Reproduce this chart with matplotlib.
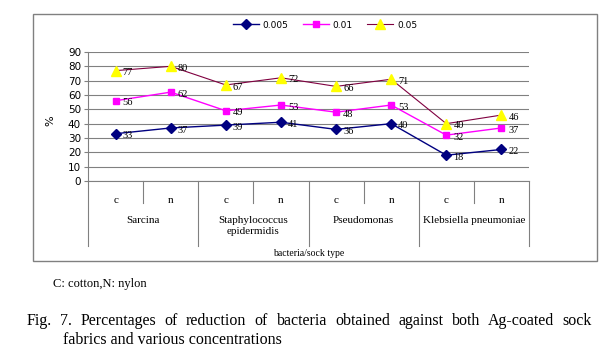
import numpy as np
import matplotlib
matplotlib.use('Agg')
import matplotlib.pyplot as plt
from matplotlib.patches import Rectangle

# data
sock_types = ['c', 'n', 'c', 'n', 'c', 'n', 'c', 'n']
bacteria = ['Sarcina', 'Staphylococcus\nepidermidis', 'Pseudomonas', 'Klebsiella pneumoniae']
series_names = ['0.005', '0.01', '0.05']
conc_005 = [33, 37, 39, 41, 36, 40, 18, 22]
conc_01 = [56, 62, 49, 53, 48, 53, 32, 37]
conc_05 = [77, 80, 67, 72, 66, 71, 40, 46]
y_ticks = [0, 10, 20, 30, 40, 50, 60, 70, 80, 90]

W, H = 614, 355
serif = 'Liberation Serif'
sans = 'DejaVu Sans'
grey = '#808080'

fig = plt.figure(figsize=(W / 100, H / 100), dpi=100)
fig.patch.set_facecolor('white')

# chart border
fig.patches.append(Rectangle((33 / W, 1 - 261 / H), 564 / W, 247 / H,
                             transform=fig.transFigure, fill=False,
                             edgecolor=grey, linewidth=1.0))

ax = fig.add_axes([88 / W, 1 - 181 / H, 441 / W, 129 / H])
x = np.arange(len(sock_types))

styles = [
    dict(color='#000080', marker='D', markersize=5, markerfacecolor='#000080',
         markeredgecolor='#000080', linewidth=1.0),
    dict(color='#FF00FF', marker='s', markersize=4.5, markerfacecolor='#FF00FF',
         markeredgecolor='#FF00FF', linewidth=1.0),
    dict(color='#800040', marker='^', markersize=6.5, markerfacecolor='#FFFF00',
         markeredgecolor='#FFFF00', linewidth=0.8),
]

for name, vals, st in zip(series_names, [conc_005, conc_01, conc_05], styles):
    ax.plot(x, vals, label=name, zorder=3, **st)
    for xi, v in zip(x, vals):
        ax.annotate(str(v), (xi, v), xytext=(5, -1.5), textcoords='offset points',
                    ha='left', va='center', fontsize=7.5, family=serif, zorder=4)

ax.set_xlim(-0.5, len(sock_types) - 0.5)
ax.set_ylim(0, 90)
ax.set_yticks(y_ticks)
ax.set_xticks([])
ax.yaxis.grid(True, color=grey, linewidth=0.8)
ax.set_axisbelow(True)
for s in ['top', 'right']:
    ax.spines[s].set_visible(False)
for s in ['left', 'bottom']:
    ax.spines[s].set_color(grey)
    ax.spines[s].set_linewidth(0.8)
ax.tick_params(axis='y', direction='out', length=3, color=grey, labelsize=7.5, pad=2)
for lab in ax.get_yticklabels():
    lab.set_family(sans)

# two-level category axis
tr = ax.get_xaxis_transform()
for xi, lab in zip(x, sock_types):
    ax.text(xi, -0.151, lab, transform=tr, ha='center', va='center',
            fontsize=8, family=serif)
for i in range(len(sock_types) // 2):
    ax.plot([2 * i + 0.5] * 2, [0, -0.171], transform=tr, color=grey,
            linewidth=0.8, clip_on=False)
for b in np.arange(-0.5, len(sock_types), 2):
    ax.plot([b, b], [0, -0.50], transform=tr, color=grey,
            linewidth=0.8, clip_on=False)
for i, name in enumerate(bacteria):
    ax.text(2 * i + 0.5, -0.27, name, transform=tr, ha='center', va='top',
            fontsize=8, family=serif, linespacing=1.25)

fig.text(308.5 / W, 1 - 254 / H, 'bacteria/sock type', ha='center', va='center',
         fontsize=7, family=serif)
fig.text(50 / W, 1 - 121 / H, '%', rotation=90, ha='center', va='center',
         fontsize=8, family=sans)

leg = fig.legend(loc='center', bbox_to_anchor=(325 / W, 1 - 25 / H), ncol=3,
                 frameon=False, fontsize=6.5, handlelength=2.9,
                 handletextpad=0.4, columnspacing=1.6, borderaxespad=0)
for t in leg.get_texts():
    t.set_family(sans)

# captions below the chart
fig.text(53 / W, 1 - 284 / H, 'C: cotton,N: nylon', ha='left', va='center',
         fontsize=9, family=serif)

fig.canvas.draw()
renderer = fig.canvas.get_renderer()


def justify(line, x0, x1, y, **kw):
    words = line.split()
    texts = [fig.text(x0 / W, y, w, ha='left', va='center', **kw) for w in words]
    widths = [t.get_window_extent(renderer).width for t in texts]
    gap = ((x1 - x0) - sum(widths)) / (len(words) - 1)
    pos = x0
    for t, w in zip(texts, widths):
        t.set_x(pos / W)
        pos += w + gap


justify('Fig. 7. Percentages of reduction of bacteria obtained against both Ag-coated sock',
        27, 592, 1 - 321 / H, fontsize=11.5, family=serif)
fig.text(63 / W, 1 - 340 / H, 'fabrics and various concentrations', ha='left',
         va='center', fontsize=11.5, family=serif)

fig.savefig('out.png', dpi=100, facecolor='white')
